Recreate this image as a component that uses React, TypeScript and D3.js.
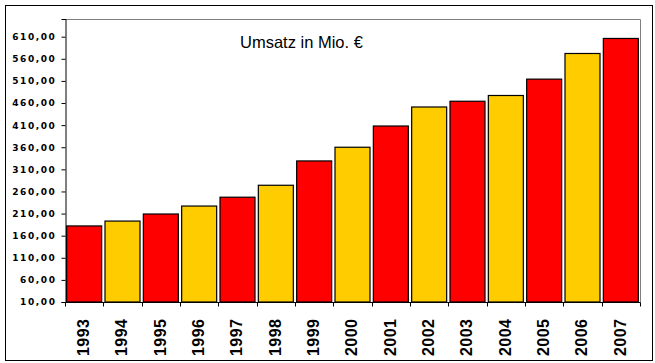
import { useEffect, useRef } from "react";
import * as d3 from "d3";

const years = ["1993", "1994", "1995", "1996", "1997", "1998", "1999", "2000", "2001", "2002", "2003", "2004", "2005", "2006", "2007"];
const umsatz = [182, 193, 209, 227, 247, 274, 329, 360, 408, 451, 464, 477, 514, 572, 606];
const yTicks = [10, 60, 110, 160, 210, 260, 310, 360, 410, 460, 510, 560, 610];
const barColors = ["#FF0000", "#FFCC00"];
const title = "Umsatz in Mio. €";

export default function App() {
  const ref = useRef<SVGSVGElement | null>(null);

  useEffect(() => {
    if (!ref.current) return;
    const svg = d3.select(ref.current);
    svg.selectAll("*").remove();

    const plot = { left: 65, right: 640, top: 19, bottom: 302 };

    // Rahmen aussen
    svg.append("rect")
      .attr("x", 5.5).attr("y", 5.5)
      .attr("width", 647).attr("height", 355)
      .attr("fill", "#fff").attr("stroke", "#000").attr("stroke-width", 1);

    const x = d3.scaleBand<string>()
      .domain(years)
      .range([plot.left, plot.right])
      .paddingInner(0.087)
      .paddingOuter(0.0435);

    const y = d3.scaleLinear()
      .domain([10, 650])
      .range([plot.bottom, plot.top]);

    // grauer Rahmen der Zeichenfläche (oben, rechts)
    svg.append("path")
      .attr("d", `M${plot.left},${plot.top + 0.5}H${plot.right + 0.5}V${plot.bottom}`)
      .attr("fill", "none")
      .attr("stroke", "#808080");

    // Balken
    svg.append("g")
      .selectAll("rect")
      .data(umsatz)
      .join("rect")
      .attr("x", (_, i) => x(years[i])!)
      .attr("y", d => y(d))
      .attr("width", x.bandwidth())
      .attr("height", d => y(10) - y(d))
      .attr("fill", (_, i) => barColors[i % 2])
      .attr("stroke", "#000")
      .attr("stroke-width", 1.2);

    // y-Achse
    const yAxis = d3.axisLeft(y)
      .tickValues(yTicks)
      .tickSize(4)
      .tickFormat(d => d3.format(".2f")(d as number).replace(".", ","));

    const gy = svg.append("g")
      .attr("transform", `translate(${plot.left + 0.5},0)`)
      .call(yAxis);
    gy.select(".domain").attr("stroke", "#000");
    gy.selectAll("text")
      .attr("x", -9)
      .attr("font-family", "'DejaVu Sans', Verdana, sans-serif")
      .attr("font-weight", "bold")
      .attr("font-size", 9)
      .attr("letter-spacing", 1.6)
      .attr("fill", "#000");

    // x-Achse
    const gx = svg.append("g")
      .attr("transform", `translate(0,${plot.bottom + 0.5})`);
    gx.append("line")
      .attr("x1", plot.left).attr("x2", plot.right + 0.5)
      .attr("stroke", "#000");
    const step = x.step();
    gx.selectAll("line.tick")
      .data(d3.range(years.length + 1))
      .join("line")
      .attr("class", "tick")
      .attr("x1", i => Math.round(plot.left + i * step) + 0.5)
      .attr("x2", i => Math.round(plot.left + i * step) + 0.5)
      .attr("y1", 0).attr("y2", 4)
      .attr("stroke", "#000");
    gx.selectAll("text")
      .data(years)
      .join("text")
      .attr("transform", d => `translate(${x(d)! + x.bandwidth() / 2 - 1},16) rotate(-90)`)
      .attr("text-anchor", "end")
      .attr("dy", "0.36em")
      .attr("font-family", "'Liberation Sans', Arial, sans-serif")
      .attr("font-weight", "bold")
      .attr("font-size", 16)
      .attr("letter-spacing", 0.5)
      .attr("fill", "#000")
      .text(d => d);

    // Titel
    svg.append("text")
      .attr("x", 240).attr("y", 48)
      .attr("font-family", "'Liberation Sans', Arial, sans-serif")
      .attr("font-size", 16.5)
      .attr("fill", "#000")
      .text(title);
  }, []);

  return (
    <svg
      ref={ref}
      width={655}
      height={363}
      style={{ position: "absolute", left: 0, top: 0, background: "#fff" }}
    />
  );
}
